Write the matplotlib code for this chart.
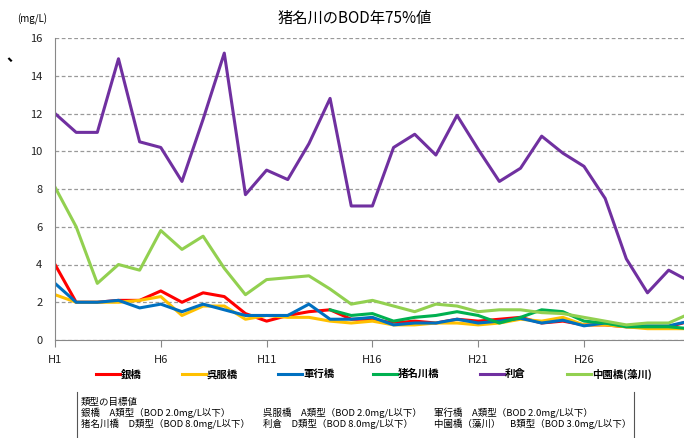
import matplotlib.pyplot as plt
from matplotlib.lines import Line2D
import numpy as np

plt.rcParams['font.family'] = ['Noto Sans CJK JP', 'DejaVu Sans']

years = np.arange(1, 32)  # H1 .. H31
tick_years = [1, 6, 11, 16, 21, 26]
tick_labels = ['H1', 'H6', 'H11', 'H16', 'H21', 'H26']

ginbashi = [4.0, 2.0, 2.0, 2.1, 2.1, 2.6, 2.0, 2.5, 2.3, 1.4, 1.0, 1.3, 1.5, 1.6, 1.1,
            1.1, 0.9, 1.0, 0.9, 1.1, 1.0, 1.1, 1.2, 0.9, 1.0, 0.8, 0.8, 0.7, 0.7, 0.7, 1.0]
gofukubashi = [2.4, 2.0, 2.0, 2.0, 2.1, 2.3, 1.3, 1.8, 1.8, 1.1, 1.3, 1.2, 1.2, 1.0, 0.9,
               1.0, 0.8, 0.8, 0.9, 0.9, 0.8, 0.9, 1.1, 1.0, 1.2, 0.8, 0.8, 0.7, 0.6, 0.6, 0.6]
gungyobashi = [3.0, 2.0, 2.0, 2.1, 1.7, 1.9, 1.5, 1.9, 1.6, 1.3, 1.3, 1.3, 1.9, 1.1, 1.1,
               1.2, 0.8, 0.9, 0.9, 1.1, 0.9, 1.0, 1.15, 0.9, 1.05, 0.75, 0.9, 0.75, 0.75, 0.75, 1.0]
inagawabashi = [np.nan] * 13 + [1.6, 1.3, 1.4, 1.0, 1.2, 1.3, 1.5, 1.3, 0.9, 1.2, 1.6,
                                1.5, 1.0, 0.9, 0.7, 0.7, 0.7, 0.6]
rikura = [12.0, 11.0, 11.0, 14.9, 10.5, 10.2, 8.4, 11.7, 15.2, 7.7, 9.0, 8.5, 10.4, 12.8, 7.1,
          7.1, 10.2, 10.9, 9.8, 11.9, 10.1, 8.4, 9.1, 10.8, 9.9, 9.2, 7.5, 4.3, 2.5, 3.7, 3.1]
nakazonobashi = [8.1, 6.0, 3.0, 4.0, 3.7, 5.8, 4.8, 5.5, 3.8, 2.4, 3.2, 3.3, 3.4, 2.7, 1.9,
                 2.1, 1.8, 1.5, 1.9, 1.8, 1.5, 1.6, 1.6, 1.45, 1.4, 1.2, 1.0, 0.8, 0.9, 0.9, 1.4]

names = ['銀橋', '呉服橋', '軍行橋', '猪名川橋', '利倉', '中園橋(藻川)']
values = [ginbashi, gofukubashi, gungyobashi, inagawabashi, rikura, nakazonobashi]
colors = ['#FF0000', '#FFC000', '#0070C0', '#00B050', '#7030A0', '#92D050']

W, H = 684, 438
fig = plt.figure(figsize=(W / 100, H / 100), dpi=100)
ax = fig.add_axes([55 / W, 1 - 340 / H, 629 / W, 302 / H])

for name, vals, color in zip(names, values, colors):
    ax.plot(years, vals, color=color, lw=2.2, label=name)

ax.set_xlim(1, 1 + 629 / 21.16)
ax.set_ylim(0, 16)
ax.set_yticks(np.arange(0, 17, 2))
ax.set_xticks(tick_years)
ax.set_xticklabels(tick_labels)
ax.yaxis.grid(True, linestyle=(0, (3, 2)), color='#999999', lw=0.9)
ax.set_axisbelow(True)
for s in ['top', 'right']:
    ax.spines[s].set_visible(False)
for s in ['left', 'bottom']:
    ax.spines[s].set_color('#888888')
ax.tick_params(axis='y', length=0, labelsize=8, pad=9, colors='#222222')
ax.tick_params(axis='x', length=5, color='#888888', labelsize=8, pad=6, labelcolor='#222222')

fig.text(355 / W, 1 - 18 / H, '猪名川のBOD年75%値', ha='center', va='center', fontsize=11)
fig.text(32 / W, 1 - 19 / H, '(mg/L)', ha='center', va='center', fontsize=7)
fig.text(14 / W, 1 - 56 / H, '、', ha='center', va='center', fontsize=11, fontweight='bold')

# legend row, placed entry by entry
legend_x = [96, 182, 278, 373, 480, 567]
legend_y = 1 - 374 / H
for x, name, color in zip(legend_x, names, colors):
    fig.add_artist(Line2D([x / W, (x + 24) / W], [legend_y, legend_y], color=color, lw=2.2))
    fig.text((x + 25) / W, legend_y, name, ha='left', va='center', fontsize=7.5,
             fontweight='bold')

# target values box
for bx in (77, 634):
    fig.add_artist(Line2D([bx / W, bx / W], [1 - 392 / H, 0], color='#555555', lw=0.8))
rows = [
    [(81, '類型の目標値')],
    [(81, '銀橋　A類型（BOD 2.0mg/L以下）'), (263, '呉服橋　A類型（BOD 2.0mg/L以下）'),
     (434, '軍行橋　A類型（BOD 2.0mg/L以下）')],
    [(81, '猪名川橋　D類型（BOD 8.0mg/L以下）'), (263, '利倉　D類型（BOD 8.0mg/L以下）'),
     (434, '中園橋（藻川）　B類型（BOD 3.0mg/L以下）')],
]
for r, row in enumerate(rows):
    for x, txt in row:
        fig.text(x / W, 1 - (402 + r * 11) / H, txt, ha='left', va='center', fontsize=6.8)

fig.savefig('out.png', dpi=100)
